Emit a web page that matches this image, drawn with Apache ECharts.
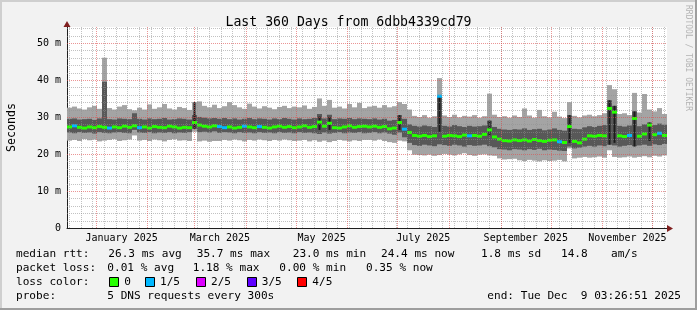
<!DOCTYPE html>
<html><head><meta charset="utf-8">
<script src="https://cdn.jsdelivr.net/npm/echarts@6/dist/echarts.min.js"></script>
<style>html,body{margin:0;padding:0;background:#f2f2f2}#c{width:697px;height:310px}</style>
</head><body><div id="c"></div>
<script>
// ---- data (ms), one bin = 3 days, from Dec 14 2024 to Dec 9 2025 ----
const BIN_DAYS = 3;
const maxRtt = [
32.5,32.8,32.3,32.0,32.6,33.0,32.2,46.0,32.4,32.0,32.8,33.2,32.1,31.8,32.5,32.0,33.4,32.2,32.6,33.5,32.3,32.0,32.7,32.4,31.9,34.0,34.2,33.0,32.6,33.3,
32.4,32.9,34.0,33.2,32.6,32.2,33.6,32.8,32.3,32.9,32.5,32.1,32.7,33.0,32.4,32.8,32.6,33.1,32.2,32.7,35.0,33.0,34.6,32.5,32.8,32.3,33.5,32.6,33.8,32.4,
32.8,33.0,32.5,33.2,32.6,32.9,34.0,33.5,32.0,30.3,30.0,30.5,29.8,30.2,40.5,30.4,30.0,30.6,29.9,30.3,30.1,30.5,29.8,30.2,36.3,30.6,30.0,30.2,29.8,30.4,
30.0,32.3,30.4,29.8,31.9,30.2,29.9,31.4,30.1,29.7,34.0,30.3,29.9,30.4,30.6,30.2,30.5,31.0,38.6,37.5,30.8,31.0,30.5,36.5,31.2,36.2,32.0,31.5,32.4,30.8];
const minRtt = [
23.6,23.8,23.5,24.0,23.7,23.9,23.4,23.6,23.8,24.0,23.5,23.7,23.9,25.0,23.6,23.8,23.5,23.9,23.7,23.4,23.8,24.0,23.6,23.7,23.5,26.0,23.4,23.6,23.3,23.5,
23.5,23.8,23.6,23.9,23.7,23.4,23.8,23.6,23.9,23.7,23.5,23.8,23.6,23.9,23.7,23.5,23.6,23.8,23.4,23.7,23.3,23.6,23.2,23.5,23.8,23.6,23.4,23.7,23.5,23.8,
23.8,23.6,23.9,23.5,23.2,23.0,23.6,23.4,21.0,19.8,19.7,19.6,19.8,19.5,19.7,20.0,19.8,19.6,19.9,20.2,19.7,19.5,19.8,19.9,19.6,19.5,18.8,18.5,18.6,18.7,
18.3,18.1,18.4,18.2,18.0,18.3,18.1,18.2,18.4,18.0,21.5,18.8,19.0,19.2,19.0,19.1,19.3,19.0,21.0,19.2,19.0,19.1,19.3,19.0,19.2,19.4,19.1,19.5,19.3,19.6];
const upperQ = [
29.5,29.6,29.3,29.4,29.5,29.2,29.6,39.5,29.4,29.3,29.6,29.5,29.4,31.0,29.5,29.3,29.6,29.4,29.5,29.7,29.3,29.4,29.6,29.5,29.3,30.5,30.0,29.8,29.6,29.7,
29.5,29.7,29.4,29.6,29.3,29.5,29.7,29.4,29.6,29.5,29.3,29.6,29.4,29.7,29.5,29.3,29.6,29.4,29.5,29.7,30.8,29.6,30.6,29.4,29.6,29.5,29.7,29.4,29.6,29.5,
29.4,29.6,29.3,29.5,29.0,29.2,30.5,29.5,28.0,27.6,27.4,27.7,27.5,27.3,35.8,27.6,27.4,27.8,27.5,27.3,27.6,27.4,27.5,27.7,29.0,27.3,26.8,26.6,26.5,26.7,
26.6,26.9,26.5,26.7,26.8,26.4,26.6,26.9,26.5,26.3,30.5,26.8,26.7,27.2,27.5,27.3,27.6,27.8,34.5,33.0,27.6,27.4,27.7,31.5,27.5,28.0,28.5,27.8,28.2,27.9];
const lowerQ = [
25.8,25.6,25.9,25.7,25.8,25.5,25.9,25.7,25.6,25.8,25.9,25.7,25.6,26.5,25.8,25.7,25.9,25.6,25.8,25.7,25.9,25.6,25.8,25.7,25.9,26.8,25.9,26.0,25.8,26.1,
25.7,25.9,25.8,25.6,25.9,25.7,25.8,25.6,25.9,25.7,25.8,25.6,25.9,25.7,25.8,25.6,25.9,25.7,25.8,25.6,25.4,25.8,25.5,25.7,25.9,25.6,25.8,25.7,25.9,25.6,
25.7,25.9,25.6,25.8,25.5,25.2,25.8,24.5,23.0,22.4,22.2,22.5,22.3,22.1,22.6,22.4,22.2,22.5,22.3,22.0,22.4,22.2,22.3,22.5,22.1,21.8,21.3,21.2,21.0,21.3,
21.2,21.0,21.3,21.1,21.4,21.0,21.2,21.1,20.9,20.8,22.0,21.5,21.7,22.0,22.2,22.0,22.3,22.1,22.5,22.3,22.0,22.2,22.4,22.1,22.3,22.5,22.2,22.6,22.4,22.7];
const medianRtt = [
27.3,27.6,27.2,27.0,27.3,27.1,27.4,27.2,27.0,27.3,27.1,27.5,27.2,27.6,27.1,27.3,27.0,27.4,27.2,27.1,27.5,27.3,27.0,27.2,27.1,28.5,27.8,27.5,27.3,27.6,
27.4,27.1,27.3,27.0,27.2,27.5,27.3,27.1,27.4,27.2,27.0,27.3,27.5,27.2,27.4,27.1,27.3,27.6,27.2,27.4,28.6,27.5,28.3,27.1,27.0,27.3,27.6,27.2,27.4,27.5,
27.3,27.5,27.2,27.4,26.8,27.0,28.5,26.7,25.8,25.0,24.8,25.0,24.7,24.9,35.6,24.8,25.0,24.9,24.7,25.1,24.9,25.0,24.8,25.3,26.5,24.6,24.0,23.6,23.5,23.8,
23.6,23.8,23.5,23.9,23.6,23.4,23.7,23.8,23.3,23.1,27.4,23.4,23.0,24.0,24.9,24.8,25.0,24.9,32.3,31.3,24.9,24.7,25.0,29.6,24.8,25.4,27.8,25.2,25.6,25.0];
// lost pings out of 5 per bin
const lossCount = [
0,1,0,0,0,0,0,0,1,0,0,0,0,0,1,0,0,0,0,0,0,0,0,0,0,0,0,0,0,0,
1,1,0,0,0,1,0,0,1,0,0,0,0,0,0,0,0,0,0,0,0,0,0,0,0,0,0,0,0,0,
0,0,0,0,0,0,0,1,0,0,0,0,0,0,1,0,0,0,0,0,1,0,0,0,0,0,0,0,0,0,
0,0,0,0,0,0,0,0,1,0,0,0,0,0,0,0,0,0,0,0,0,0,1,0,0,0,0,0,1,0];
// near-black spikes: bin index, low, high
const spikeBin  = [25,50,52,66,74,84,100,108,109,113,116];
const spikeLow  = [26.8,26.5,26.5,26.5,26.0,25.0,23.0,22.5,23.0,22.0,23.5];
const spikeHigh = [34.0,30.1,30.0,30.5,35.8,29.0,30.5,34.5,33.0,31.5,28.5];
const lossNames  = ['0','1/5','2/5','3/5','4/5'];
const lossColors = ['#26ff00','#00b8ff','#dd00ff','#5e00ff','#ff0000'];
const monthLabels = ['January 2025','March 2025','May 2025','July 2025','September 2025','November 2025'];
const yTickLabels = ['0','10 m','20 m','30 m','40 m','50 m'];
const legendRows = [
  [['median rtt:',16],['26.3 ms avg',108.3],['35.7 ms max',196.7],['23.0 ms min',292.7],['24.4 ms now',381],['1.8 ms sd',481],['14.8',561],['am/s',611]],
  [['packet loss:',16],['0.01 % avg',107.3],['1.18 % max',192.7],['0.00 % min',279.3],['0.35 % now',366]],
  [['loss color:',16]],
  [['probe:',16],['5 DNS requests every 300s',107.3]]
];
const endText = 'end: Tue Dec  9 03:26:51 2025';

// ---- time helpers ----
const DAY = 86400000;
const T0 = Date.UTC(2024,11,14,3,26,51);
const SHIFT = 0.6;
const dayOf = (y,m,d) => (Date.UTC(y,m,d) - T0)/DAY - SHIFT;
const monthStarts = [];
for (let k = 0; k < 13; k++) monthStarts.push(dayOf(2025, k, 1));
const monthCenters = [0,2,4,6,8,10].map(m => (dayOf(2025,m,1)+dayOf(2025,m+1,1))/2);
const weekLines = [];
for (let d = dayOf(2024,11,16); d < 360; d += 7) weekLines.push(d);
const Y_MAX = 54.3;
const minorH = []; for (let v = 2; v < Y_MAX; v += 2) if (v % 10) minorH.push(v);
const majorH = [10,20,30,40,50];

const MONO = '"DejaVu Sans Mono", monospace';
const LEG_FONT = '11.1px ' + MONO;

function band(lo, hi, color) {
  return {
    type:'custom', silent:true, animation:false,
    data: lo.map((l,i)=>[i*BIN_DAYS, l, hi[i]]),
    encode:{x:0, y:[1,2]},
    renderItem:(p, api) => {
      const a = api.coord([api.value(0), api.value(2)]);
      const b = api.coord([api.value(0)+BIN_DAYS, api.value(1)]);
      return {type:'rect', shape:{x:a[0], y:a[1], width:b[0]-a[0], height:b[1]-a[1]}, style:{fill:color}};
    }
  };
}
const spikeSeries = {
  type:'custom', silent:true, animation:false,
  data: spikeBin.map((b,i)=>[b*BIN_DAYS, spikeLow[i], spikeHigh[i]]),
  encode:{x:0,y:[1,2]},
  renderItem:(p, api) => {
    const a = api.coord([api.value(0)+BIN_DAYS/2, api.value(2)]);
    const b = api.coord([api.value(0)+BIN_DAYS/2, api.value(1)]);
    return {type:'rect', shape:{x:a[0]-1, y:a[1], width:2, height:b[1]-a[1]}, style:{fill:'#1c1c1c'}};
  }
};
const medianSeries = {
  type:'custom', silent:true, animation:false,
  data: medianRtt.map((m,i)=>[i*BIN_DAYS, m, lossCount[i]]),
  encode:{x:0,y:1},
  renderItem:(p, api) => {
    const a = api.coord([api.value(0), api.value(1)]);
    const b = api.coord([api.value(0)+BIN_DAYS, api.value(1)]);
    return {type:'rect', shape:{x:a[0], y:a[1]-1.5, width:b[0]-a[0], height:3}, style:{fill:lossColors[api.value(2)]}};
  }
};
function vGrid(list, color) {
  return {
    type:'custom', silent:true, animation:false, z:5,
    data: list.map(v=>[v]), encode:{x:0},
    renderItem:(p, api) => {
      const a = api.coord([api.value(0), 0]);
      const b = api.coord([api.value(0), Y_MAX]);
      const x = Math.round(a[0]) + 0.5;
      return {type:'line', shape:{x1:x, y1:a[1], x2:x, y2:b[1]}, style:{stroke:color, lineWidth:1, lineDash:[1,1]}};
    }
  };
}
function hGrid(list, color) {
  return {
    type:'custom', silent:true, animation:false, z:5,
    data: list.map(v=>[0, v]), encode:{y:1},
    renderItem:(p, api) => {
      const a = api.coord([0, api.value(1)]);
      const b = api.coord([360, api.value(1)]);
      const y = Math.round(a[1]) + 0.5;
      return {type:'line', shape:{x1:a[0], y1:y, x2:b[0], y2:y}, style:{stroke:color, lineWidth:1, lineDash:[1,1]}};
    }
  };
}

const graphics = [
  {type:'rect', shape:{x:0,y:0,width:697,height:2}, style:{fill:'#cfcfcf'}, silent:true},
  {type:'rect', shape:{x:0,y:0,width:2,height:310}, style:{fill:'#cfcfcf'}, silent:true},
  {type:'rect', shape:{x:0,y:308,width:697,height:2}, style:{fill:'#9e9e9e'}, silent:true},
  {type:'rect', shape:{x:695,y:0,width:2,height:310}, style:{fill:'#9e9e9e'}, silent:true},
  {type:'polygon', shape:{points:[[667,225],[667,232],[673,228.5]]}, style:{fill:'#801f1f'}, silent:true, z:10},
  {type:'polygon', shape:{points:[[63.5,27],[70.5,27],[67,21]]}, style:{fill:'#801f1f'}, silent:true, z:10},
  {type:'text', x:688, y:5, rotation:-Math.PI/2, silent:true,
   style:{text:'RRDTOOL / TOBI OETIKER', font:'8px '+MONO, fill:'#b4b4b4', align:'left', verticalAlign:'middle'}}
];
const rowY = [254, 268, 282, 296];
legendRows.forEach((row, r) => row.forEach(([t, x]) => graphics.push(
  {type:'text', x:x, y:rowY[r], silent:true, style:{text:t, font:LEG_FONT, fill:'#000', verticalAlign:'middle'}})));
graphics.push({type:'text', x:681, y:rowY[3], silent:true, style:{text:endText, font:LEG_FONT, fill:'#000', align:'right', verticalAlign:'middle'}});
const swX = [109.3, 145, 196, 246.7, 297.3];
lossNames.forEach((n, i) => {
  graphics.push({type:'rect', shape:{x:Math.round(swX[i])+0.5, y:277.5, width:9, height:9}, style:{fill:lossColors[i], stroke:'#000', lineWidth:1}, silent:true});
  graphics.push({type:'text', x:swX[i]+15, y:282, silent:true, style:{text:n, font:LEG_FONT, fill:'#000', verticalAlign:'middle'}});
});

const chart = echarts.init(document.getElementById('c'), null, {renderer:'canvas'});
chart.setOption({
  backgroundColor:'#f2f2f2',
  animation:false,
  title:{text:'Last 360 Days from 6dbb4339cd79', left:'center', top:11,
    textStyle:{fontFamily:MONO, fontSize:13.2, fontWeight:'normal', color:'#000'}},
  grid:{left:67, top:27, width:600, height:201, backgroundColor:'#ffffff', show:true, borderWidth:0,
    containLabel:false, outerBoundsMode:'none'},
  xAxis:{type:'value', min:0, max:360,
    axisLine:{show:true, lineStyle:{color:'#1f1f1f', width:1}},
    axisTick:{show:false}, splitLine:{show:false},
    axisLabel:{customValues:monthCenters, margin:5, fontFamily:MONO, fontSize:10, color:'#000',
      formatter:(v)=>{ let best=0; monthCenters.forEach((c,i)=>{ if (Math.abs(c-v) < Math.abs(monthCenters[best]-v)) best=i; }); return monthLabels[best]; }}},
  yAxis:{type:'value', min:0, max:Y_MAX, interval:10,
    axisLine:{show:true, lineStyle:{color:'#1f1f1f', width:1}},
    axisTick:{show:false}, splitLine:{show:false},
    axisLabel:{showMaxLabel:false, margin:6, fontFamily:MONO, fontSize:10, color:'#000',
      formatter:(v)=> yTickLabels[Math.round(v/10)] || ''},
    name:'Seconds', nameLocation:'middle', nameGap:49, nameRotate:90,
    nameTextStyle:{fontFamily:MONO, fontSize:11.6, color:'#000'}},
  graphic: graphics,
  series:[
    band(minRtt, maxRtt, '#a4a4a4'),
    band(lowerQ, upperQ, '#585858'),
    spikeSeries,
    medianSeries,
    vGrid(weekLines, 'rgba(143,143,143,0.55)'),
    hGrid(minorH, 'rgba(143,143,143,0.55)'),
    vGrid(monthStarts.filter(d=>d>0 && d<360), 'rgba(222,79,79,0.6)'),
    hGrid(majorH, 'rgba(222,79,79,0.6)')
  ]
});
</script></body></html>
